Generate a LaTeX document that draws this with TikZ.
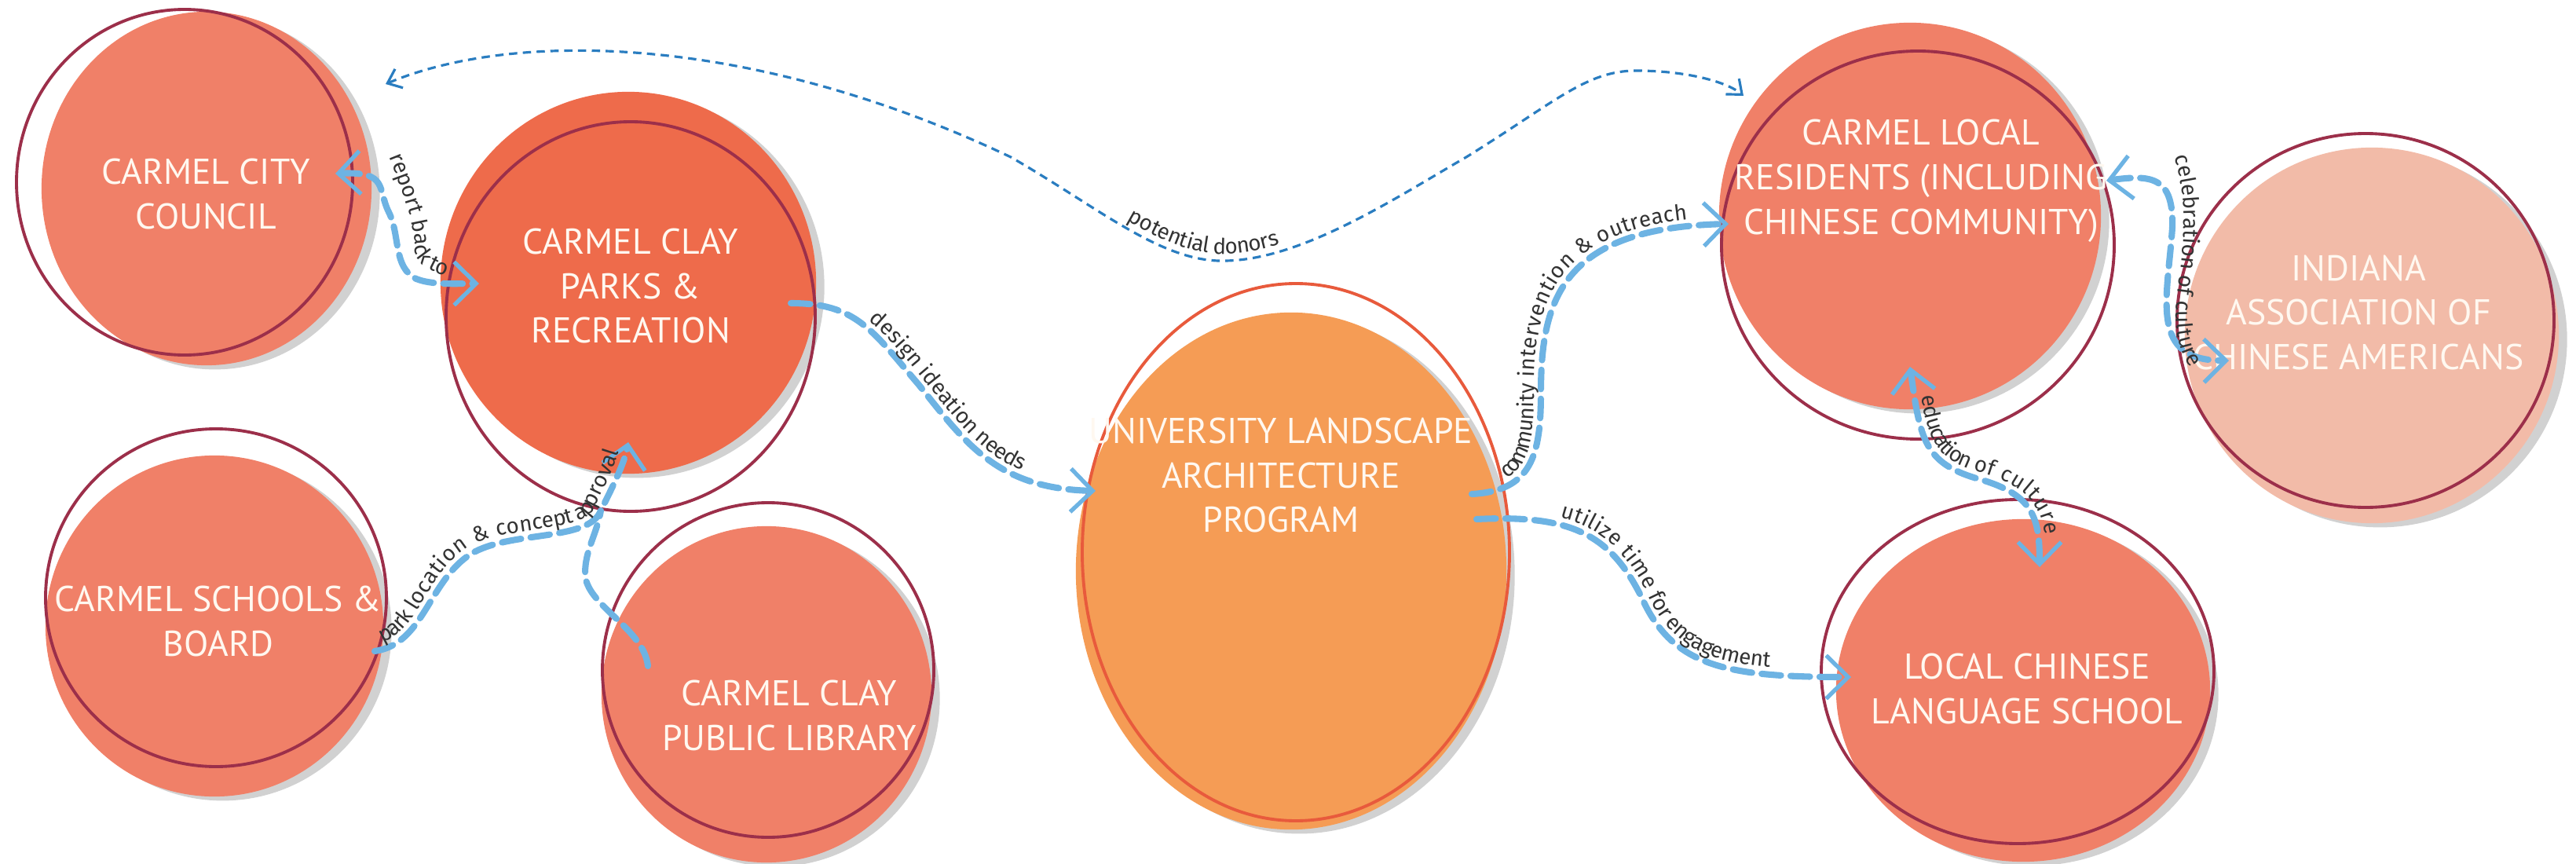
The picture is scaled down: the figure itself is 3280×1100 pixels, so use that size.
\documentclass[tikz,border=0pt]{standalone}
\usepackage{fontspec}
\usetikzlibrary{shapes.geometric, shadows, arrows.meta, decorations.text, positioning}
\newfontfamily\capfont{PT Sans}
\newfontfamily\lblfont{Fira Sans}
\newcommand\lbl{\lblfont\fontsize{7.9}{9}\selectfont}
\definecolor{salmon}{HTML}{F08068}
\definecolor{parkred}{HTML}{EE6B4B}
\definecolor{ulaorange}{HTML}{F59C55}
\definecolor{paleblush}{HTML}{F2BBA8}
\definecolor{ringred}{HTML}{9C2F4A}
\definecolor{ularing}{HTML}{E85A3C}
\definecolor{linkblue}{HTML}{6DB3E3}
\definecolor{donorblue}{HTML}{2A7DC0}
\definecolor{lblgray}{HTML}{333333}
\definecolor{capwhite}{HTML}{FFF8F0}
\begin{document}
\begin{tikzpicture}[x=0.01cm, y=-0.01cm,
  >={Straight Barb[length=2.8mm, width=5.5mm, line width=1.5pt]},
  blob node/.style={ellipse, inner sep=0pt, draw=none, drop shadow={shadow xshift=3pt, shadow yshift=-1.5pt, fill=black, opacity=0.18}},
  ring line/.style={draw=ringred, line width=1.1pt},
  caption/.style={text=capwhite, align=center, font=\capfont\fontsize{13}{16.2}\selectfont},
  link/.style={draw=linkblue, line width=2.3pt, dash pattern=on 7pt off 3.5pt, line cap=round},
  link label/.style={postaction={decorate, decoration={text along path, text align=center, raise=2.5pt, text color=lblgray, text={|\lbl|#1}}}},
  label path/.style={decorate, decoration={text along path, text align=center, raise=0pt, text color=lblgray, text={|\lbl|#1}}}]
        \useasboundingbox (0,0) rectangle (3280,1100);

          % stakeholder blobs
          \node[blob node, fill=salmon, minimum width=4.2cm, minimum height=4.5cm] (council) at (263,240) {};
          \node[blob node, fill=parkred, minimum width=4.78cm, minimum height=4.86cm] (parks) at (800,360) {};
          \node[blob node, fill=salmon, minimum width=4.3cm, minimum height=4.34cm] (schools) at (273,797) {};
          \node[blob node, fill=salmon, minimum width=4.2cm, minimum height=4.28cm] (library) at (976,884) {};
          \node[blob node, fill=ulaorange, minimum width=5.48cm, minimum height=6.58cm] (ula) at (1644,727) {};
          \node[blob node, fill=salmon, minimum width=4.86cm, minimum height=4.92cm] (residents) at (2432,275) {};
          \node[blob node, fill=paleblush, minimum width=4.76cm, minimum height=4.78cm] (iaca) at (3020,427) {};
          \node[blob node, fill=salmon, minimum width=4.76cm, minimum height=4.36cm] (lcls) at (2576,879) {};

          % sketchy outlines
          \draw[ring line] (235,232) ellipse [x radius=214, y radius=220];
          \draw[ring line] (803,403) ellipse [x radius=235, y radius=248];
          \draw[ring line] (275,761) ellipse [x radius=217, y radius=215];
          \draw[ring line] (978,853) ellipse [x radius=211, y radius=213];
          \draw[ring line, draw=ularing] (1650,703) ellipse [x radius=272, y radius=342];
          \draw[ring line] (2442,312) ellipse [x radius=250, y radius=247];
          \draw[ring line] (3012,408) ellipse [x radius=240, y radius=238];
          \draw[ring line] (2569,855) ellipse [x radius=250, y radius=219];

          % captions
          \node[caption] (council-txt) at (262,247) {CARMEL CITY\\COUNCIL};
          \node[caption] (parks-txt) at (803,364) {CARMEL CLAY\\PARKS \&\\RECREATION};
          \node[caption] (schools-txt) at (278,791) {CARMEL SCHOOLS \&\\BOARD};
          \node[caption] (library-txt) at (1005,911) {CARMEL CLAY\\PUBLIC LIBRARY};
          \node[caption] (ula-txt) at (1631,605) {UNIVERSITY LANDSCAPE\\ARCHITECTURE\\PROGRAM};
          \node[caption] (residents-txt) at (2446,230) {CARMEL LOCAL\\RESIDENTS (INCLUDING\\CHINESE COMMUNITY)};
          \node[caption] (iaca-txt) at (3003,398) {INDIANA\\ASSOCIATION OF\\CHINESE AMERICANS};
          \node[caption] (lcls-txt) at (2581,877) {LOCAL CHINESE\\LANGUAGE SCHOOL};

          \coordinate (jct) at (765,650);

          % connectors
          \draw[link, <->]
            ([shift={(164,-19)}]council.center) .. controls (495,218) and (480,240) .. (495,270)
            .. controls (510,300) and (500,340) .. (530,355)
            .. controls (550,363) and (580,361) .. ([shift={(-190,1)}]parks.center);
          \path[label path={report back to}] (494,196) .. controls (512,240) and (530,290) .. (528,315) .. controls (528,335) and (545,345) .. (572,352);
          \draw[link, ->, link label={design ideation needs}]
            ([shift={(207,26)}]parks.center) .. controls (1090,386) and (1110,420) .. (1170,490)
            .. controls (1230,565) and (1270,622) .. ([shift={(-249,-102)}]ula.center);
          \draw[link, ->, link label={park location {\&} concept approval}]
            ([shift={(204,32)}]schools.center) .. controls (540,820) and (545,740) .. (600,705)
            .. controls (650,675) and (750,690) .. (jct)
            .. controls (780,620) and (795,590) .. ([shift={(0,203)}]parks.center);
          \draw[link]
            ([shift={(-151,-36)}]library.center) .. controls (820,800) and (745,770) .. (745,730)
            .. controls (745,700) and (760,680) .. (jct);
          \draw[link, ->, link label={community intervention {\&} outreach}]
            ([shift={(230,-98)}]ula.center) .. controls (1950,625) and (1962,580) .. (1962,500)
            .. controls (1962,380) and (1990,290) .. ([shift={(-231,10)}]residents.center);
          \draw[link, ->, link label={utilize time for engagement}]
            ([shift={(236,-66)}]ula.center) .. controls (2000,655) and (2050,680) .. (2090,760)
            .. controls (2130,850) and (2200,862) .. ([shift={(-219,-17)}]lcls.center);
          \draw[link, <->, link label={education of culture}]
            ([shift={(0,192)}]residents.center) .. controls (2445,560) and (2450,590) .. (2520,610)
            .. controls (2590,630) and (2597,660) .. ([shift={(21,-157)}]lcls.center);
          \draw[link, <->]
            ([shift={(250,-45)}]residents.center) .. controls (2740,222) and (2768,225) .. (2766,290)
            .. controls (2760,380) and (2735,460) .. ([shift={(-182,32)}]iaca.center);
          \path[label path={celebration of culture}] (2768,198) .. controls (2790,260) and (2778,330) .. (2772,380) .. controls (2768,420) and (2775,450) .. (2790,470);
          \draw[draw=donorblue, line width=0.9pt, dash pattern=on 3pt off 2pt,
                {Straight Barb[length=1.6mm, width=2.6mm]}-{Straight Barb[length=1.6mm, width=2.6mm]},
                postaction={decorate, decoration={text along path, text align={align=left, left indent=9.9cm}, raise=2.5pt, text color=lblgray, text={|\lbl|potential donors}}}]
            ([shift={(228,-133)}]council.center) .. controls (650,40) and (950,40) .. (1287,200)
            .. controls (1400,265) and (1480,335) .. (1561,332)
            .. controls (1660,330) and (1780,250) .. (1867,200)
            .. controls (1980,130) and (2020,90) .. (2083,90)
            .. controls (2150,90) and (2200,105) .. ([shift={(-212,-153)}]residents.center);

\end{tikzpicture}
\end{document}
